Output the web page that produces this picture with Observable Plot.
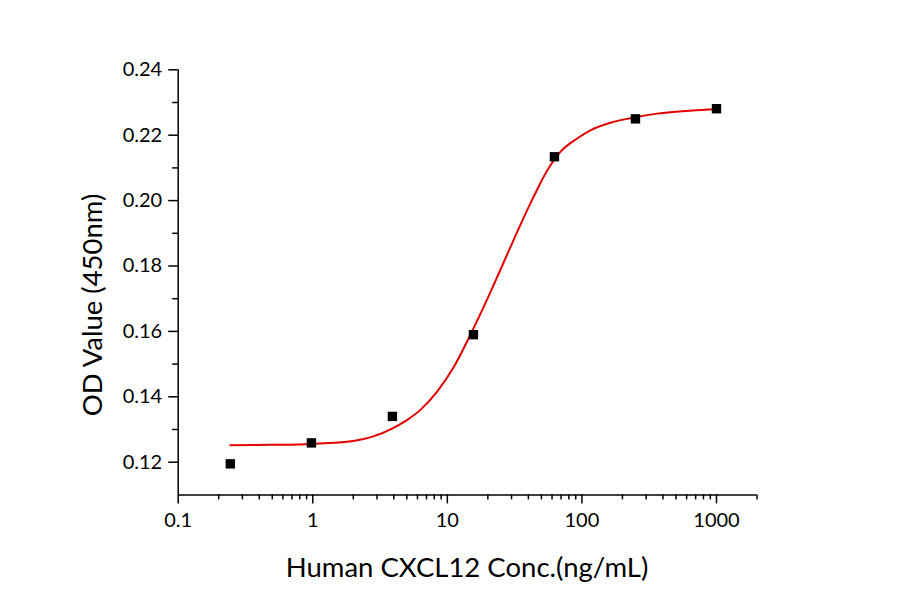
<!DOCTYPE html>
<html>
<head>
<meta charset="utf-8">
<script src="https://cdn.jsdelivr.net/npm/d3@7"></script>
<script src="https://cdn.jsdelivr.net/npm/@observablehq/plot@0.6"></script>
<style>
  html, body { margin: 0; padding: 0; background: #fff; }
  #chart { width: 900px; height: 594px; }
</style>
</head>
<body>
<div id="chart"></div>
<script>
// Measured points (concentration ng/mL, OD 450nm)
const conc = [0.244, 0.977, 3.906, 15.625, 62.5, 250, 1000];
const od   = [0.1195, 0.1259, 0.1340, 0.1590, 0.2134, 0.2250, 0.2281];

// Fitted curve
const curveConc = [0.244, 0.493, 1, 2.0, 3.89, 4.97, 6.31, 8.40, 11.16, 14.85, 20.9, 27.0, 34.9, 43.9, 55.1, 69.2, 92.1, 115.7, 162.8, 229.2, 362, 640, 1000];
const curveOd   = [0.1252, 0.1253, 0.1256, 0.1265, 0.1303, 0.1328, 0.1360, 0.1416, 0.1491, 0.1590, 0.1720, 0.1823, 0.1926, 0.2013, 0.2091, 0.2149, 0.2190, 0.2215, 0.2238, 0.2252, 0.2266, 0.2275, 0.2279];

// Ticks
const xTicks = [0.1, 1, 10, 100, 1000];
const xMinor = [0.2,0.3,0.4,0.5,0.6,0.7,0.8,0.9, 2,3,4,5,6,7,8,9, 20,30,40,50,60,70,80,90, 200,300,400,500,600,700,800,900, 2000];
const yTicks = [0.12, 0.14, 0.16, 0.18, 0.20, 0.22, 0.24];
const yMinor = [0.13, 0.15, 0.17, 0.19, 0.21, 0.23];

const xTitle = "Human CXCL12 Conc.(ng/mL)";
const yTitle = "OD Value (450nm)";

const points = conc.map((c, i) => ({c, v: od[i]}));
const curve = curveConc.map((c, i) => ({c, v: curveOd[i]}));

const font = "Lato, 'Open Sans', sans-serif";

const svg = Plot.plot({
  width: 900,
  height: 594,
  marginLeft: 177.7,
  marginRight: 143.5,
  marginTop: 69.3,
  marginBottom: 99.6,
  style: { fontFamily: font, background: "#fff", color: "#000", overflow: "visible" },
  x: { type: "log", domain: [0.1, 2000] },
  y: { domain: [0.11, 0.24] },
  marks: [
    Plot.ruleX([0.1], { stroke: "#000", strokeWidth: 1.5 }),
    Plot.ruleY([0.11], { stroke: "#000", strokeWidth: 1.5 }),
    Plot.axisX({ ticks: xTicks, tickSize: 9, tickPadding: 9, fontSize: 20, tickFormat: d => String(d), label: null, strokeWidth: 1.5 }),
    Plot.axisX({ ticks: xMinor, tickSize: 5, tickFormat: () => "", label: null, strokeWidth: 1.5 }),
    Plot.axisY({ ticks: yTicks, tickSize: 9.5, tickPadding: 6.5, fontSize: 20, tickFormat: d => d.toFixed(2), label: null, strokeWidth: 1.5 }),
    Plot.axisY({ ticks: yMinor, tickSize: 5.5, tickFormat: () => "", label: null, strokeWidth: 1.5 }),
    Plot.line(curve, { x: "c", y: "v", stroke: "#e30000", strokeWidth: 2, curve: "monotone-x" }),
    Plot.dot(points, { x: "c", y: "v", symbol: "square", r: 5.3, fill: "#000", stroke: "none" })
  ]
});

const s = d3.select(svg);
s.append("text")
  .attr("transform", "translate(467,577)")
  .attr("text-anchor", "middle")
  .attr("font-family", font)
  .attr("font-size", 27.5)
  .attr("fill", "#000")
  .text(xTitle);
s.append("text")
  .attr("transform", "translate(101.7,305) rotate(-90)")
  .attr("text-anchor", "middle")
  .attr("font-family", font)
  .attr("font-size", 27.5)
  .attr("fill", "#000")
  .text(yTitle);

document.getElementById("chart").appendChild(svg);
</script>
</body>
</html>
